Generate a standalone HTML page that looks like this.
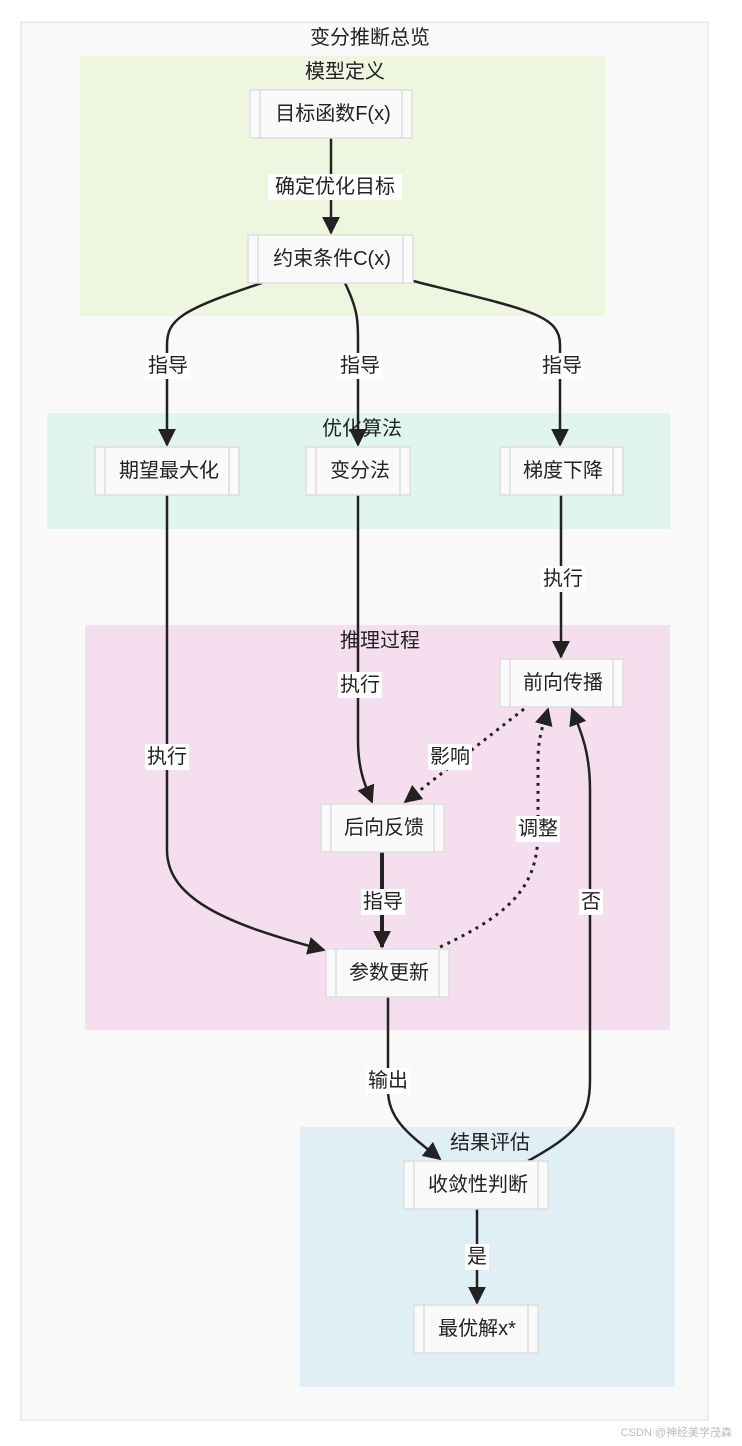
<!DOCTYPE html>
<html><head><meta charset="utf-8"><style>
html,body{margin:0;padding:0;background:#fff;}
svg{display:block;font-family:"Liberation Sans","Noto Sans CJK SC",sans-serif;}
.n rect{fill:#fafafa;stroke:#ddd;stroke-width:1.5}
.n line{stroke:#ddd;stroke-width:1.5}
.t{font-size:20px;fill:#222;text-anchor:middle;dominant-baseline:central}
.st{font-size:20px;fill:#222;text-anchor:middle;dominant-baseline:central}
.e{fill:none;stroke:#222;stroke-width:2.5}
.d{fill:none;stroke:#222;stroke-width:3;stroke-dasharray:3 5}
.lb{fill:#fff}
</style></head><body>
<svg width="742" height="1446" viewBox="0 0 742 1446">
<defs>
<marker id="b" viewBox="0 0 10 10" refX="9" refY="5" markerWidth="18" markerHeight="18" markerUnits="userSpaceOnUse" orient="auto"><path d="M0,0L10,5L0,10z" fill="#222"/></marker></defs>
<rect x="21" y="22" width="687" height="1398" fill="#f9f9f9" stroke="#ddd"/>
<text class="st" x="370" y="38">变分推断总览</text>
<rect x="80" y="56" width="525" height="260" fill="#eff6e0"/>
<text class="st" x="345" y="72">模型定义</text>
<rect x="47" y="413" width="623" height="116" fill="#e0f5ee"/>
<text class="st" x="362" y="429">优化算法</text>
<rect x="85" y="625" width="585" height="405" fill="#f5dfee"/>
<text class="st" x="380" y="641">推理过程</text>
<rect x="300" y="1127" width="375" height="260" fill="#e0eef5"/>
<text class="st" x="490" y="1143">结果评估</text>

<g>
<path class="e" d="M331,138 L331,233" marker-end="url(#b)"/>
<path class="e" d="M262,283 C180,310 167,320 167,345 L167,445" marker-end="url(#b)"/>
<path class="e" d="M345,283 C358,310 358,320 358,345 L358,445" marker-end="url(#b)"/>
<path class="e" d="M413,281 C530,310 560,315 560,345 L560,445" marker-end="url(#b)"/>
<path class="e" d="M167,495 L167,850 C167,900 230,925 324,950" marker-end="url(#b)"/>
<path class="e" d="M358,495 L358,740 C358,770 365,785 372,802" marker-end="url(#b)"/>
<path class="e" d="M561,495 L561,657" marker-end="url(#b)"/>
<path class="d" d="M524,709 L405,802" marker-end="url(#b)"/>
<path class="d" d="M440,947 C520,910 538,880 538,830 L538,760 C538,735 545,720 548,709" marker-end="url(#b)"/>
<path class="e" style="stroke-width:4" d="M382,852 L382,947" marker-end="url(#b)"/>
<path class="e" d="M388,997 L388,1090 C388,1120 410,1135 440,1159" marker-end="url(#b)"/>
<path class="e" d="M528,1161 C575,1135 590,1120 590,1080 L590,790 C590,750 580,730 572,709" marker-end="url(#b)"/>
<path class="e" d="M477,1209 L477,1303" marker-end="url(#b)"/>
</g>

<g>
<rect class="lb" x="268" y="174" width="134" height="26"/><text class="t" x="335" y="187">确定优化目标</text>
<rect class="lb" x="146" y="353" width="44" height="26"/><text class="t" x="168" y="366">指导</text>
<rect class="lb" x="338" y="353" width="44" height="26"/><text class="t" x="360" y="366">指导</text>
<rect class="lb" x="540" y="353" width="44" height="26"/><text class="t" x="562" y="366">指导</text>
<rect class="lb" x="541" y="566" width="44" height="26"/><text class="t" x="563" y="579">执行</text>
<rect class="lb" x="338" y="672" width="44" height="26"/><text class="t" x="360" y="685">执行</text>
<rect class="lb" x="145" y="744" width="44" height="26"/><text class="t" x="167" y="757">执行</text>
<rect class="lb" x="428" y="744" width="44" height="26"/><text class="t" x="450" y="757">影响</text>
<rect class="lb" x="516" y="816" width="44" height="26"/><text class="t" x="538" y="829">调整</text>
<rect class="lb" x="361" y="889" width="44" height="26"/><text class="t" x="383" y="902">指导</text>
<rect class="lb" x="579" y="889" width="24" height="26"/><text class="t" x="591" y="902">否</text>
<rect class="lb" x="366" y="1068" width="44" height="26"/><text class="t" x="388" y="1081">输出</text>
<rect class="lb" x="465" y="1244" width="24" height="26"/><text class="t" x="477" y="1257">是</text>
</g>

<g class="n">
<rect x="250" y="90" width="162" height="48"/><line x1="260" y1="90" x2="260" y2="138"/><line x1="402" y1="90" x2="402" y2="138"/><text class="t" x="333" y="114">目标函数F(x)</text>
<rect x="248" y="235" width="165" height="48"/><line x1="258" y1="235" x2="258" y2="283"/><line x1="403" y1="235" x2="403" y2="283"/><text class="t" x="332" y="259">约束条件C(x)</text>
<rect x="95" y="447" width="144" height="48"/><line x1="105" y1="447" x2="105" y2="495"/><line x1="229" y1="447" x2="229" y2="495"/><text class="t" x="169" y="471">期望最大化</text>
<rect x="306" y="447" width="104" height="48"/><line x1="316" y1="447" x2="316" y2="495"/><line x1="400" y1="447" x2="400" y2="495"/><text class="t" x="360" y="471">变分法</text>
<rect x="500" y="447" width="123" height="48"/><line x1="510" y1="447" x2="510" y2="495"/><line x1="613" y1="447" x2="613" y2="495"/><text class="t" x="563" y="471">梯度下降</text>
<rect x="500" y="659" width="123" height="48"/><line x1="510" y1="659" x2="510" y2="707"/><line x1="613" y1="659" x2="613" y2="707"/><text class="t" x="563" y="683">前向传播</text>
<rect x="321" y="804" width="123" height="48"/><line x1="331" y1="804" x2="331" y2="852"/><line x1="434" y1="804" x2="434" y2="852"/><text class="t" x="384" y="828">后向反馈</text>
<rect x="326" y="949" width="123" height="48"/><line x1="336" y1="949" x2="336" y2="997"/><line x1="439" y1="949" x2="439" y2="997"/><text class="t" x="389" y="973">参数更新</text>
<rect x="404" y="1161" width="144" height="48"/><line x1="414" y1="1161" x2="414" y2="1209"/><line x1="538" y1="1161" x2="538" y2="1209"/><text class="t" x="478" y="1185">收敛性判断</text>
<rect x="414" y="1305" width="124" height="48"/><line x1="424" y1="1305" x2="424" y2="1353"/><line x1="528" y1="1305" x2="528" y2="1353"/><text class="t" x="477" y="1329">最优解x*</text>
</g>
<text x="732" y="1436" font-size="11" fill="#bbb" text-anchor="end">CSDN @神经美学茂森</text>
</svg>
</body></html>
